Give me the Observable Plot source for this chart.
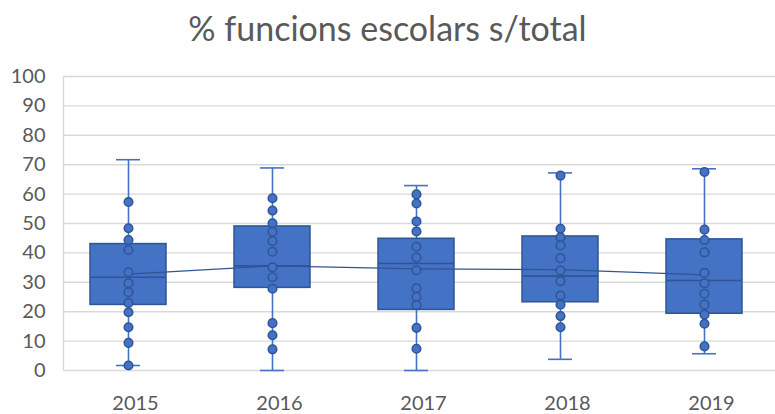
<!DOCTYPE html>
<html>
<head>
<meta charset="utf-8">
<script src="https://cdn.jsdelivr.net/npm/d3@7"></script>
<script src="https://cdn.jsdelivr.net/npm/@observablehq/plot@0.6"></script>
<style>
  html, body { margin: 0; padding: 0; background: #fff; }
  #title { height: 58px; box-sizing: border-box; padding-top: 11px; font-family: Lato, sans-serif; font-size: 34px; line-height: 1; color: #595959; text-align: center; white-space: nowrap; }
  svg { display: block; }
</style>
</head>
<body>
<div id="title">% funcions escolars s/total</div>
<div id="chart"></div>
<script>
const years = ["2015", "2016", "2017", "2018", "2019"];
const q1 = [22.3, 28.1, 20.6, 23.2, 19.3];
const median = [31.7, 35.6, 36.4, 32.1, 30.6];
const q3 = [43.0, 49.0, 44.8, 45.6, 44.6];
const whiskerLow = [1.7, 0, 0, 3.8, 5.7];
const whiskerHigh = [71.7, 68.9, 62.9, 67.2, 68.6];
const means = [32.8, 35.6, 34.6, 34.3, 32.5];
const points2015 = [57.3, 48.4, 44.4, 41.0, 33.4, 29.7, 26.6, 23.0, 19.8, 14.7, 9.4, 1.7];
const points2016 = [58.6, 54.4, 50.1, 47.2, 44.0, 40.4, 35.1, 31.7, 27.8, 16.1, 12.0, 7.2];
const points2017 = [59.9, 56.8, 50.7, 47.3, 42.1, 38.4, 34.1, 28.0, 25.1, 22.3, 14.5, 7.4];
const points2018 = [66.3, 48.2, 45.3, 42.5, 38.2, 34.0, 30.4, 25.5, 22.4, 18.5, 14.7];
const points2019 = [67.5, 47.9, 44.4, 40.2, 33.2, 29.7, 26.1, 22.4, 19.0, 15.9, 8.2];
const yTicks = [0, 10, 20, 30, 40, 50, 60, 70, 80, 90, 100];

const boxes = years.map((year, i) => ({year, q1: q1[i], median: median[i], q3: q3[i], lo: whiskerLow[i], hi: whiskerHigh[i], mean: means[i]}));
const pointSets = [points2015, points2016, points2017, points2018, points2019];
const dots = pointSets.flatMap((arr, i) => arr.map(v => ({year: years[i], value: v})));
const caps = boxes.flatMap(b => [{year: b.year, value: b.lo}, {year: b.year, value: b.hi}]);

const fill = "#4472C4";
const dark = "#2F5597";
const shift = -7;

const chart = Plot.plot({
  width: 775,
  height: 356,
  marginLeft: 63,
  marginRight: 0,
  marginTop: 18,
  marginBottom: 44,
  style: {fontFamily: "Lato, sans-serif", fontSize: "20px", color: "#595959", background: "#fff"},
  x: {type: "band", domain: years, range: [63, 783], padding: 0},
  y: {domain: [0, 100]},
  marks: [
    Plot.gridY(yTicks, {stroke: "#d9d9d9", strokeOpacity: 1, strokeWidth: 1.4}),
    Plot.ruleX([years[0]], {dx: -72, y1: 0, y2: 100, stroke: "#d9d9d9", strokeWidth: 1.4}),
    Plot.axisY(yTicks, {tickSize: 0, tickPadding: 18, label: null, fontSize: 20}),
    Plot.axisX({tickSize: 0, tickPadding: 25, label: null, fontSize: 20}),
    Plot.ruleX(boxes, {x: "year", y1: "lo", y2: "hi", dx: shift, stroke: fill, strokeWidth: 1.6}),
    Plot.tickY(caps, {x: "year", y: "value", dx: shift, insetLeft: 60, insetRight: 60, stroke: fill, strokeWidth: 1.6}),
    Plot.barY(boxes, {x: "year", y1: "q1", y2: "q3", dx: shift, insetLeft: 34, insetRight: 34, fill: fill, stroke: dark, strokeWidth: 1.5}),
    Plot.tickY(boxes, {x: "year", y: "median", dx: shift, insetLeft: 34, insetRight: 34, stroke: dark, strokeWidth: 1.6}),
    Plot.line(boxes, {x: "year", y: "mean", dx: shift, stroke: dark, strokeWidth: 1.3}),
    Plot.dot(dots, {x: "year", y: "value", dx: shift, r: 4.3, fill: fill, stroke: dark, strokeWidth: 1.5})
  ]
});
document.getElementById("chart").appendChild(chart);
</script>
</body>
</html>
